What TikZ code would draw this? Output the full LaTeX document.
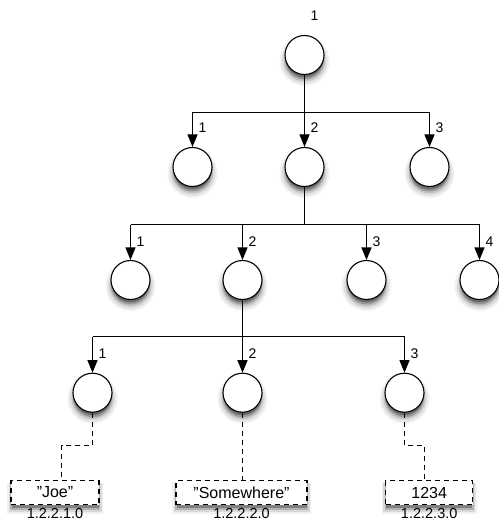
\documentclass[tikz,border=0pt]{standalone}
\usepackage{fontspec}
\setmainfont{Liberation Sans}
\usetikzlibrary{arrows.meta,calc}
\tikzset{
  ln/.style={line width=1.1pt},
  arr/.style={ln,-{Triangle[length=12.5pt,width=10pt]}},
  dsh/.style={ln,dash pattern=on 5pt off 4pt},
  circ/.style={circle,draw,line width=1.1pt,fill=white,minimum size=39pt,inner sep=0pt},
  valbox/.style={draw,dsh,fill=white,minimum height=24pt,minimum width=#1,inner sep=0pt,
    font=\fontsize{16}{17}\selectfont},
  lbl/.style={font=\fontsize{14}{15}\selectfont,inner sep=0pt},
  idl/.style={font=\fontsize{14.5}{15}\selectfont,inner sep=3pt,anchor=north},
  circshadow/.pic={
    \fill[black!5]  (0,6) circle[radius=25pt];
    \fill[black!12] (0,6) circle[radius=23pt];
    \fill[black!24] (0,5.5) circle[radius=21pt];
    \fill[black!40] (0,5) circle[radius=19.5pt];
    \fill[black!58] (0,4) circle[radius=18.5pt];
  },
}
\newcommand\boxshadow[2]{% center x, width
  \fill[black!6]  (#1-#2/2-4,483) rectangle (#1+#2/2+4,513.5);
  \fill[black!15] (#1-#2/2-2.5,483) rectangle (#1+#2/2+2.5,511.5);
  \fill[black!30] (#1-#2/2-1,483) rectangle (#1+#2/2+1,509.5);
  \fill[black!50] (#1-#2/2+0.5,483) rectangle (#1+#2/2-0.5,507.5);
}
\begin{document}
\begin{tikzpicture}[x=1pt,y=-1pt]
\useasboundingbox (0,0) rectangle (498,521);
% positions
\coordinate (pr) at (304.5,55);
\coordinate (pa1) at (192.5,167);
\coordinate (pa2) at (304.5,167);
\coordinate (pa3) at (429.5,167);
\coordinate (pb1) at (130.5,280);
\coordinate (pb2) at (242.5,280);
\coordinate (pb3) at (366.5,280);
\coordinate (pb4) at (479.5,280);
\coordinate (pc1) at (92.5,392.7);
\coordinate (pc2) at (242.5,392.7);
\coordinate (pc3) at (404.5,392.7);
% shadows
\foreach \p in {pr,pa1,pa2,pa3,pb1,pb2,pb3,pb4,pc1,pc2,pc3}{
  \pic at (\p) {circshadow};
}
\boxshadow{55}{88}
\boxshadow{241.5}{131}
\boxshadow{429.2}{87}
% nodes
\node[circ] (r) at (pr) {};
\node[circ] (a1) at (pa1) {};
\node[circ] (a2) at (pa2) {};
\node[circ] (a3) at (pa3) {};
\node[circ] (b1) at (pb1) {};
\node[circ] (b2) at (pb2) {};
\node[circ] (b3) at (pb3) {};
\node[circ] (b4) at (pb4) {};
\node[circ] (c1) at (pc1) {};
\node[circ] (c2) at (pc2) {};
\node[circ] (c3) at (pc3) {};
\node[valbox=88pt] (v1) at (55,492.5) {"Joe"};
\node[valbox=131pt] (v2) at (241.5,492.5) {"Somewhere"};
\node[valbox=87pt] (v3) at (429.2,492.5) {1234};
\node[idl] (i1) at (v1.south) {1.2.2.1.0};
\node[idl] (i2) at (v2.south) {1.2.2.2.0};
\node[idl] (i3) at (v3.south) {1.2.2.3.0};
% junctions
\coordinate (j0) at (304.5,112.5);
\coordinate (j1) at (304.5,224.5);
\coordinate (j2) at (242.5,336.5);
\coordinate (k1) at (61.5,445.5);
\coordinate (k3) at (424.5,445.5);
% level 1
\draw[ln] (r) -- (j0);
\draw[ln] (a1 |- j0) -- (a3 |- j0);
\draw[arr] (a1 |- j0) -- (a1);
\draw[arr] (j0) -- (a2);
\draw[arr] (a3 |- j0) -- (a3);
% level 2
\draw[ln] (a2) -- (j1);
\draw[ln] (b1 |- j1) -- (b4 |- j1);
\draw[arr] (b1 |- j1) -- (b1);
\draw[arr] (b2 |- j1) -- (b2);
\draw[arr] (b3 |- j1) -- (b3);
\draw[arr] (b4 |- j1) -- (b4);
% level 3
\draw[ln] (b2) -- (j2);
\draw[ln] (c1 |- j2) -- (c3 |- j2);
\draw[arr] (c1 |- j2) -- (c1);
\draw[arr] (j2) -- (c2);
\draw[arr] (c3 |- j2) -- (c3);
% dashed to values
\draw[dsh] (c1) |- (k1) -- (k1 |- v1.north);
\draw[dsh] (c2) -- (c2 |- v2.north);
\draw[dsh] (c3) |- (k3) -- (k3 |- v3.north);
% labels
\node[lbl] (lr) at ($(r.north)+(10,-19)$) {1};
\node[lbl] (la1) at ($(a1.north)+(10,-19)$) {1};
\node[lbl] (la2) at ($(a2.north)+(10,-19)$) {2};
\node[lbl] (la3) at ($(a3.north)+(10,-19)$) {3};
\node[lbl] (lb1) at ($(b1.north)+(10,-18)$) {1};
\node[lbl] (lb2) at ($(b2.north)+(10,-18)$) {2};
\node[lbl] (lb3) at ($(b3.north)+(10,-18)$) {3};
\node[lbl] (lb4) at ($(b4.north)+(10,-18)$) {4};
\node[lbl] (lc1) at ($(c1.north)+(10,-19)$) {1};
\node[lbl] (lc2) at ($(c2.north)+(10,-19)$) {2};
\node[lbl] (lc3) at ($(c3.north)+(10,-19)$) {3};
\end{tikzpicture}
\end{document}
